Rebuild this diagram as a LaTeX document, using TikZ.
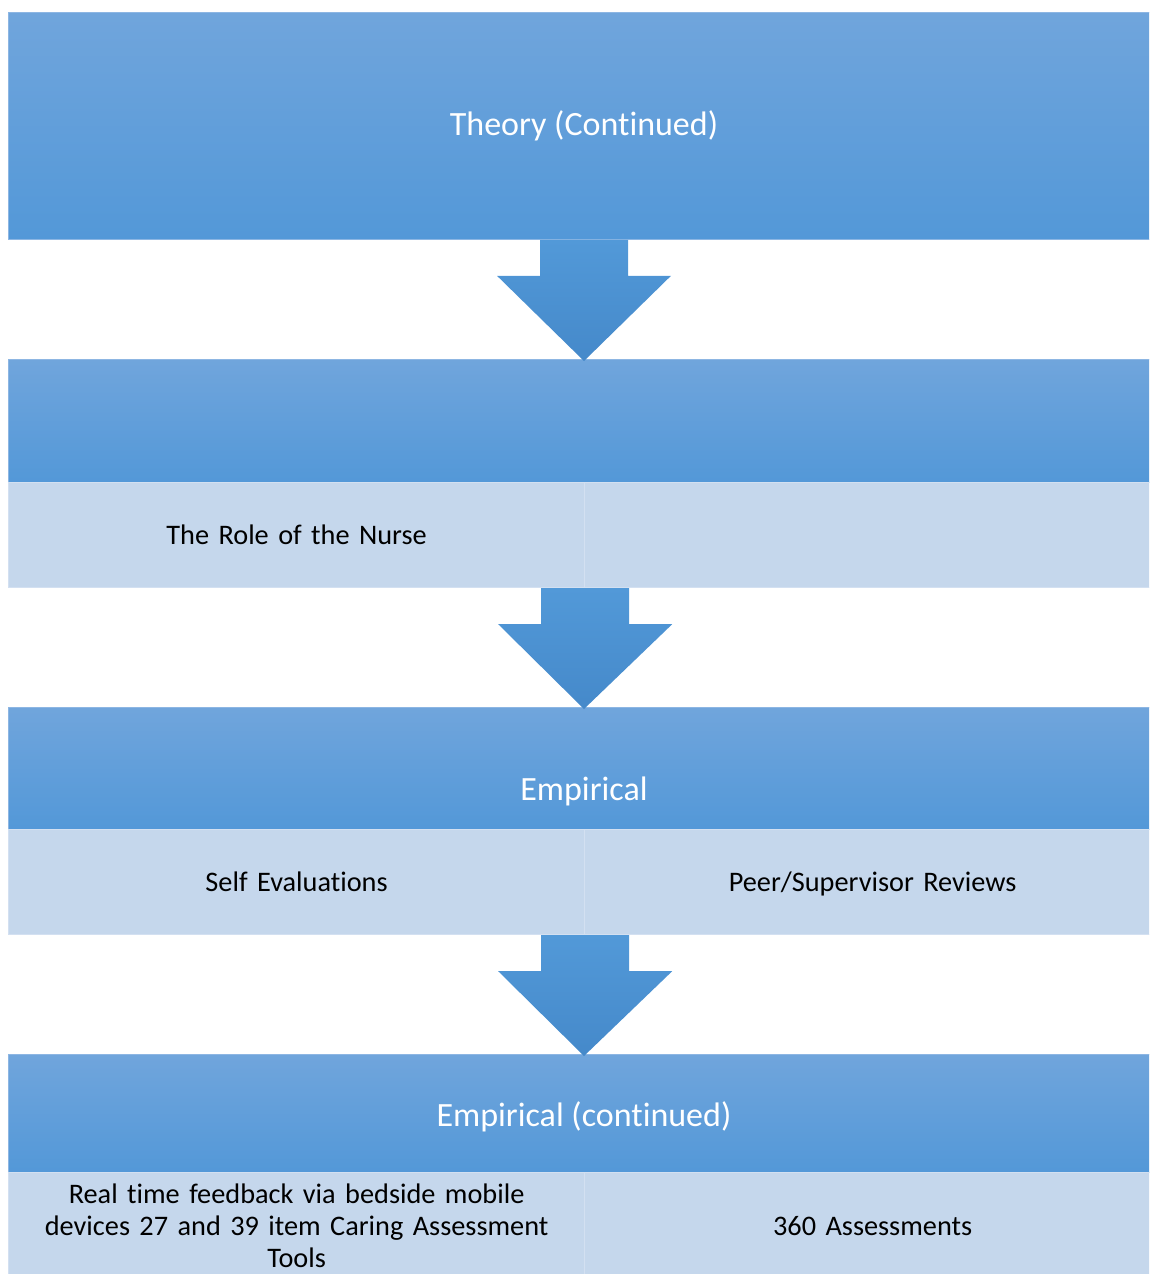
\documentclass[tikz,border=0pt]{standalone}
\usepackage{fontspec}
\setmainfont{Carlito}[Ligatures={NoCommon,NoContextual}]
\usetikzlibrary{calc}
\definecolor{hdtop}{HTML}{70A5DC}
\definecolor{hdbot}{HTML}{5398D8}
\definecolor{artop}{HTML}{5299D8}
\definecolor{arbot}{HTML}{4589CA}
\definecolor{cellfill}{HTML}{C5D7EC}
\definecolor{cellline}{HTML}{D3E0F1}
\definecolor{hdline}{HTML}{8DB6E3}
\newcommand{\blockarrowdraw}[2]{%
  \path[blockarrow] ($(#1)+(-44,0)$) -- ($(#1)+(44,0)$) -- ($(#1)+(44,36)$) -- ($(#1)+(87,36)$)
    -- ($(#2)+(0,2)$) -- ($(#1)+(-87,36)$) -- ($(#1)+(-44,36)$) -- cycle;}
\begin{document}
\begin{tikzpicture}[x=1pt,y=-1pt,
  header/.style={rectangle, inner sep=0pt, top color=hdtop, bottom color=hdbot,
    draw=hdline, line width=0.8pt, minimum width=1152pt, anchor=north},
  cell/.style={rectangle, inner sep=0pt, fill=cellfill, draw=cellline, line width=1.2pt,
    minimum width=576pt, minimum height=105pt, anchor=north west, text width=520pt, align=center,
    font=\fontsize{28.3}{32}\selectfont, text=black},
  oneline/.style={text height=23pt, text depth=4pt},
  hdtext/.style={anchor=base, text=white, font=\fontsize{34}{40}\selectfont, inner sep=0pt},
  blockarrow/.style={top color=artop, bottom color=arbot}]
\useasboundingbox (0,0) rectangle (1149,1274);
\clip (0,0) rectangle (1149,1274);
% headers
\node[header, minimum height=227pt] (h1) at (584,12) {};
\node[header, minimum height=123pt] (h2) at (584,359) {};
\node[header, minimum height=122pt] (h3) at (584,707) {};
\node[header, minimum height=118pt] (h4) at (584,1054) {};
% header texts
\node[hdtext] (t1) at (584,135) {Theory (Cont\kern0pt inued)};
\node[hdtext] (t3) at (584,800) {Empirical};
\node[hdtext] (t4) at (584,1126) {Empirical (cont\kern0pt inued)};
% cells
\node[cell, oneline] (c2l) at (8,482) {The Role of the Nurse};
\node[cell] (c2r) at (584,482) {};
\node[cell, oneline] (c3l) at (8,829) {Self Evaluat\kern0pt ions};
\node[cell, oneline] (c3r) at (584,829) {Peer/Supervisor Reviews};
\node[cell, minimum height=106pt] (c4l) at (8,1172) {Real time feedback via bedside mobile\\devices 27 and 39 item Caring Assessment\\Tools};
\node[cell, oneline, minimum height=106pt] (c4r) at (584,1172) {360 Assessments};
% arrows
\blockarrowdraw{h1.south}{h2.north}
\blockarrowdraw{c2l.south east}{h3.north}
\blockarrowdraw{c3l.south east}{h4.north}
\end{tikzpicture}
\end{document}
